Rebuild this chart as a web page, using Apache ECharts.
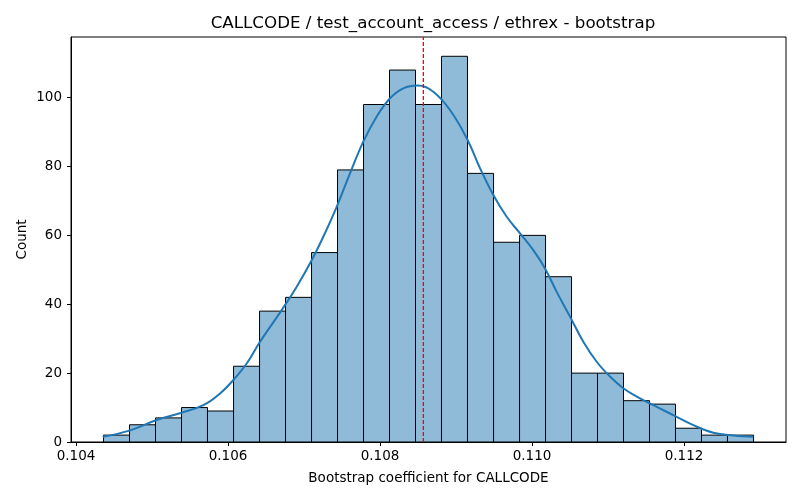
<!DOCTYPE html>
<html>
<head>
<meta charset="utf-8">
<script src="https://cdn.jsdelivr.net/npm/echarts@6/dist/echarts.min.js"></script>
<style>html,body{margin:0;padding:0;background:#fff}#c{width:800px;height:500px}</style>
</head>
<body>
<div id="c"></div>
<script>
// Histogram bin edges (26 edges -> 25 bins)
const binEdges = [0.104362,0.104704,0.105046,0.105388,0.105730,0.106073,0.106415,0.106757,0.107099,0.107441,0.107783,0.108125,0.108467,0.108809,0.109151,0.109494,0.109836,0.110178,0.110520,0.110862,0.111204,0.111546,0.111888,0.112230,0.112572,0.112915];
const counts = [2,5,7,10,9,22,38,42,55,79,98,108,98,112,78,58,60,48,20,20,12,11,4,2,2];
// KDE curve
const kdeX = [0.104351,0.104701,0.105061,0.105391,0.105675,0.105895,0.10607,0.106246,0.106421,0.106706,0.106904,0.107101,0.107254,0.10743,0.107605,0.10778,0.107957,0.108132,0.108307,0.108504,0.108701,0.108921,0.109141,0.109316,0.109491,0.109667,0.109842,0.110017,0.110171,0.110325,0.1105,0.110675,0.110851,0.111026,0.111201,0.111378,0.111596,0.111859,0.112122,0.112386,0.112649,0.112912];
const kdeY = [1.5,3.3,6.4,8.5,10.7,14.1,18,22.8,29.1,38.3,45.1,52.8,59.6,68.3,78,87.2,94.5,99.8,102.7,103.5,101.7,96.4,88.2,79.5,71.7,65.4,60.6,55.7,50.4,43.6,36.4,29.1,23.3,19,15.6,13.2,10.7,7.8,4.9,2.7,1.9,1.5];
const meanValue = 0.10857;
const xTicks = [0.104,0.106,0.108,0.110,0.112];
const yTicks = [0,20,40,60,80,100];
const yMax = 117.6;

const barData = counts.map((c, i) => [binEdges[i], binEdges[i + 1], c]);
const kdeData = kdeX.map((x, i) => [x, kdeY[i]]);

const chart = echarts.init(document.getElementById('c'), null, {renderer: 'canvas'});
const font = 'DejaVu Sans';
chart.setOption({
  animation: false,
  backgroundColor: '#fff',
  textStyle: {fontFamily: font},
  title: {
    text: 'CALLCODE / test_account_access / ethrex - bootstrap',
    left: 428, top: 10, textAlign: 'center',
    textStyle: {fontFamily: font, fontSize: 16.7, fontWeight: 'normal', color: '#000'}
  },
  grid: {left: 71, right: 14, top: 37, bottom: 58, show: true, borderColor: '#000', borderWidth: 1, backgroundColor: 'transparent'},
  xAxis: {
    type: 'value', min: 0.103934, max: 0.113342,
    name: 'Bootstrap coefficient for CALLCODE', nameLocation: 'middle', nameGap: 29,
    nameMoveOverlap: false,
    nameTextStyle: {fontFamily: font, fontSize: 13.5, color: '#000'},
    axisLine: {show: true, lineStyle: {color: '#000', width: 1}},
    axisTick: {show: true, inside: false, length: 4, customValues: xTicks, lineStyle: {color: '#000'}},
    axisLabel: {customValues: xTicks, margin: 7, fontFamily: font, fontSize: 13.5, color: '#000',
      formatter: v => v.toFixed(3)},
    splitLine: {show: false}
  },
  yAxis: {
    type: 'value', min: 0, max: yMax,
    name: 'Count', nameLocation: 'middle', nameGap: 42,
    nameMoveOverlap: false,
    nameTextStyle: {fontFamily: font, fontSize: 13.5, color: '#000'},
    axisLine: {show: true, lineStyle: {color: '#000', width: 1}},
    axisTick: {show: true, length: 4, customValues: yTicks, lineStyle: {color: '#000'}},
    axisLabel: {customValues: yTicks, margin: 9, fontFamily: font, fontSize: 13.5, color: '#000'},
    splitLine: {show: false}
  },
  series: [
    {
      type: 'custom', z: 2,
      data: barData,
      encode: {x: [0, 1], y: 2},
      renderItem: function (params, api) {
        const p0 = api.coord([api.value(0), 0]);
        const p1 = api.coord([api.value(1), api.value(2)]);
        return {
          type: 'rect',
          shape: {x: p0[0], y: p1[1], width: p1[0] - p0[0], height: p0[1] - p1[1]},
          style: {fill: '#8fbbd9', stroke: '#000', lineWidth: 1}
        };
      }
    },
    {
      type: 'line', z: 3,
      data: kdeData, smooth: 0.4, showSymbol: false, symbol: 'none',
      itemStyle: {color: '#1f77b4'},
      lineStyle: {color: '#1f77b4', width: 2}
    },
    {
      type: 'line', z: 4,
      data: [[meanValue, 0], [meanValue, yMax]],
      showSymbol: false, symbol: 'none',
      itemStyle: {color: '#ff0000'},
      lineStyle: {color: '#ff0000', type: [4, 2], width: 1.3, opacity: 1}
    }
  ]
});
</script>
</body>
</html>
